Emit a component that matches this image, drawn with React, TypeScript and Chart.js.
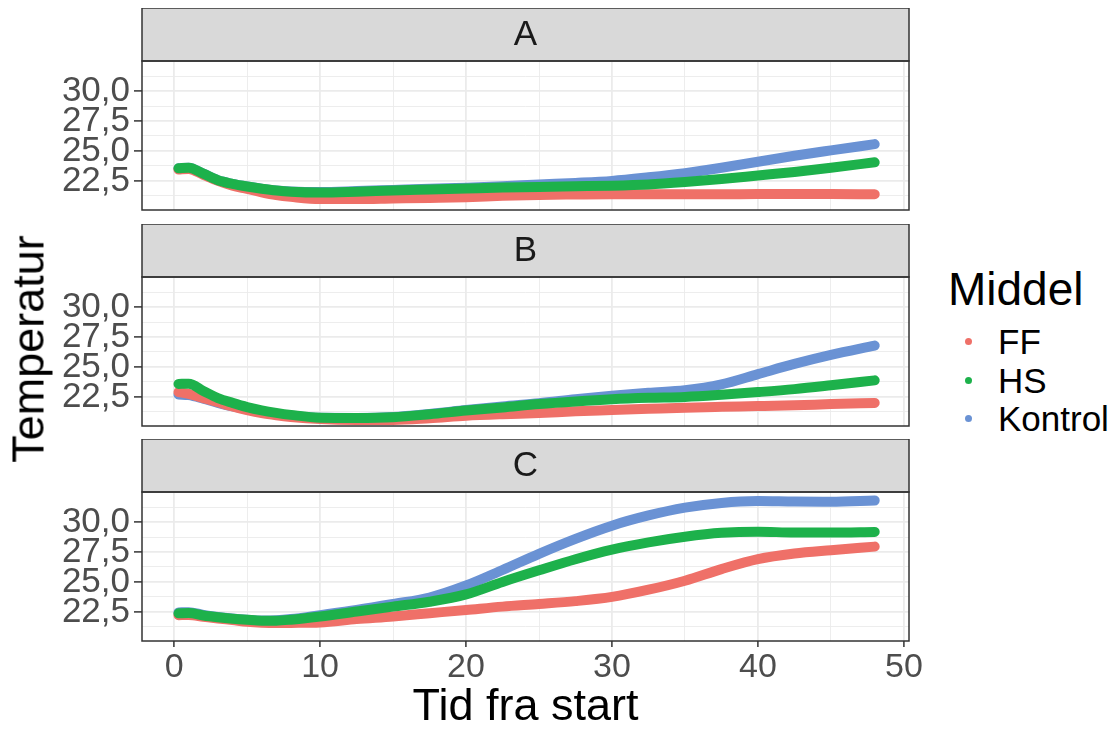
import React, { useEffect, useRef } from 'react';
import { Chart, registerables } from 'chart.js';

Chart.register(...registerables);

// ---------- data ----------
const TIME = [0.3, 1, 2, 3, 4, 5, 6, 7, 8, 10, 12.5, 15, 17.5, 20, 22.5, 25, 27.5, 30, 32.5, 35, 37.5, 40, 42.5, 45, 48];

const A_FF = [23.45, 23.5, 23.0, 22.5, 22.1, 21.83, 21.55, 21.32, 21.17, 20.98, 20.98, 21.03, 21.08, 21.14, 21.25, 21.33, 21.36, 21.38, 21.38, 21.39, 21.39, 21.4, 21.4, 21.4, 21.38];
const A_HS = [23.55, 23.6, 23.1, 22.55, 22.25, 22.03, 21.85, 21.7, 21.6, 21.53, 21.6, 21.7, 21.78, 21.86, 21.94, 22.0, 22.05, 22.1, 22.2, 22.4, 22.65, 22.95, 23.25, 23.6, 24.05];
const A_KONTROL = [23.55, 23.6, 23.1, 22.55, 22.25, 22.03, 21.85, 21.7, 21.62, 21.57, 21.65, 21.75, 21.85, 21.93, 22.05, 22.2, 22.33, 22.5, 22.8, 23.15, 23.6, 24.1, 24.6, 25.05, 25.57];

const B_FF = [22.9, 22.75, 22.4, 22.05, 21.7, 21.4, 21.15, 20.97, 20.83, 20.65, 20.58, 20.58, 20.72, 20.92, 21.05, 21.15, 21.3, 21.4, 21.5, 21.6, 21.67, 21.73, 21.8, 21.9, 22.0];
const B_HS = [23.58, 23.6, 23.0, 22.4, 22.0, 21.65, 21.38, 21.17, 21.0, 20.76, 20.74, 20.8, 21.05, 21.36, 21.62, 21.9, 22.12, 22.3, 22.42, 22.5, 22.68, 22.9, 23.15, 23.47, 23.88];
const B_KONTROL = [22.7, 22.65, 22.35, 22.0, 21.7, 21.5, 21.25, 21.05, 20.92, 20.75, 20.74, 20.82, 21.08, 21.4, 21.7, 21.97, 22.3, 22.6, 22.85, 23.06, 23.55, 24.4, 25.25, 26.0, 26.78];

const C_FF = [22.23, 22.25, 22.1, 21.95, 21.82, 21.68, 21.6, 21.57, 21.58, 21.62, 21.9, 22.12, 22.39, 22.66, 22.94, 23.16, 23.4, 23.75, 24.35, 25.1, 26.07, 26.9, 27.37, 27.65, 27.95];
const C_HS = [22.38, 22.4, 22.2, 22.05, 21.93, 21.84, 21.77, 21.77, 21.85, 22.12, 22.53, 22.94, 23.35, 23.96, 25.0, 25.97, 26.9, 27.7, 28.3, 28.77, 29.1, 29.2, 29.12, 29.12, 29.18];
const C_KONTROL = [22.45, 22.48, 22.25, 22.08, 21.95, 21.85, 21.78, 21.8, 21.9, 22.23, 22.66, 23.16, 23.7, 24.7, 26.0, 27.35, 28.6, 29.7, 30.55, 31.2, 31.6, 31.75, 31.71, 31.7, 31.8];

const SERIES = ['FF', 'HS', 'Kontrol'];
const PANELS = ['A', 'B', 'C'];

const Y_MAJOR = [22.5, 25, 27.5, 30];
const Y_MINOR = [21.25, 23.75, 26.25, 28.75, 31.25];
const X_MAJOR = [0, 10, 20, 30, 40, 50];
const X_MINOR = [5, 15, 25, 35, 45];

const Y_MIN = 20.07;
const Y_MAX = 32.51;
const X_MIN = -2.2;
const X_MAX = 50.35;

const COLORS: Record<string, string> = {
  FF: '#EF7068',
  HS: '#1DB14B',
  Kontrol: '#6A92D4',
};
const DRAW_ORDER: Record<string, number> = { FF: 1, HS: 0, Kontrol: 2 };

const FONT = '"Liberation Sans", Arial, Helvetica, sans-serif';
Chart.defaults.font.family = FONT;

// ---------- layout ----------
const CANVAS_W = 940;
const STRIP_H = 53;
const PLOT_H = 149;
const AXIS_LEFT = 142;
const PAD_RIGHT = 31;

const isIn = (arr: number[], v: number) => arr.some((a) => Math.abs(a - v) < 1e-6);
const fmt = (v: number) => v.toFixed(1).replace('.', ',');

const stripPlugin = {
  id: 'facetStrip',
  afterDraw(chart: any, _args: any, opts: any) {
    const { ctx, chartArea: ca } = chart;
    const h = opts.height;
    ctx.save();
    ctx.fillStyle = '#D9D9D9';
    ctx.fillRect(ca.left, ca.top - h, ca.right - ca.left, h);
    ctx.strokeStyle = '#333333';
    ctx.lineWidth = 1.5;
    ctx.strokeRect(ca.left, ca.top - h, ca.right - ca.left, h);
    ctx.strokeRect(ca.left, ca.top, ca.right - ca.left, ca.bottom - ca.top);
    ctx.fillStyle = '#1A1A1A';
    ctx.font = '35px ' + FONT;
    ctx.textAlign = 'center';
    ctx.textBaseline = 'middle';
    ctx.fillText(opts.text, (ca.left + ca.right) / 2, ca.top - h / 2 + 1);
    ctx.restore();
  },
};

function buildConfig(label: string, values: number[][], bottomAxis: boolean, canvasH: number): any {
  const datasets = SERIES.map((name, si) => ({
    label: name,
    data: TIME.map((t, i) => ({ x: t, y: values[si][i] })),
    borderColor: COLORS[name],
    backgroundColor: COLORS[name],
    borderWidth: 10,
    pointRadius: 0,
    fill: false,
    cubicInterpolationMode: 'monotone',
    borderCapStyle: 'round',
    borderJoinStyle: 'round',
    order: DRAW_ORDER[name],
  }));

  const bottomPad = bottomAxis ? 0 : 3;
  const axisH = canvasH - STRIP_H - PLOT_H - bottomPad;

  return {
    type: 'line',
    data: { datasets },
    plugins: [stripPlugin],
    options: {
      responsive: false,
      maintainAspectRatio: false,
      animation: false,
      events: [],
      layout: { padding: { top: STRIP_H, right: PAD_RIGHT, bottom: bottomPad, left: 0 } },
      plugins: {
        legend: { display: false },
        tooltip: { enabled: false },
        facetStrip: { text: label, height: STRIP_H },
      },
      scales: {
        x: {
          type: 'linear',
          min: X_MIN,
          max: X_MAX,
          afterBuildTicks: (s: any) => {
            s.ticks = [...X_MAJOR, ...X_MINOR].sort((a, b) => a - b).map((v) => ({ value: v }));
          },
          afterFit: (s: any) => {
            s.height = axisH;
            s.paddingLeft = 0;
            s.paddingRight = 0;
          },
          border: { display: false },
          grid: {
            color: '#EBEBEB',
            lineWidth: (c: any) => (c.tick && isIn(X_MAJOR, c.tick.value) ? 1.8 : 0.9),
            drawTicks: bottomAxis,
            tickLength: 6,
            tickWidth: 1.5,
            tickColor: (c: any) => (c.tick && isIn(X_MAJOR, c.tick.value) ? '#333333' : 'rgba(0,0,0,0)'),
          },
          ticks: {
            display: bottomAxis,
            autoSkip: false,
            maxRotation: 0,
            minRotation: 0,
            padding: 0,
            color: '#4D4D4D',
            font: { size: 34, family: FONT },
            callback: (v: number) => (isIn(X_MAJOR, v) ? String(v) : ''),
          },
          title: {
            display: bottomAxis,
            text: 'Tid fra start',
            color: '#000000',
            font: { size: 45, family: FONT, lineHeight: 1 },
            padding: { top: 0, bottom: 0 },
          },
        },
        y: {
          type: 'linear',
          min: Y_MIN,
          max: Y_MAX,
          afterBuildTicks: (s: any) => {
            s.ticks = [...Y_MAJOR, ...Y_MINOR].sort((a, b) => a - b).map((v) => ({ value: v }));
          },
          afterFit: (s: any) => {
            s.width = AXIS_LEFT;
            s.paddingTop = 0;
            s.paddingBottom = 0;
          },
          border: { display: false },
          grid: {
            color: '#EBEBEB',
            lineWidth: (c: any) => (c.tick && isIn(Y_MAJOR, c.tick.value) ? 1.8 : 0.9),
            tickLength: 8,
            tickWidth: 1.5,
            tickColor: (c: any) => (c.tick && isIn(Y_MAJOR, c.tick.value) ? '#333333' : 'rgba(0,0,0,0)'),
          },
          ticks: {
            autoSkip: false,
            padding: 4,
            color: '#4D4D4D',
            font: { size: 35, family: FONT },
            callback: (v: number) => (isIn(Y_MAJOR, v) ? fmt(v) : ''),
          },
        },
      },
    },
  };
}

type PanelProps = { label: string; values: number[][]; top: number; height: number; bottomAxis: boolean };

function Panel({ label, values, top, height, bottomAxis }: PanelProps) {
  const ref = useRef<HTMLCanvasElement | null>(null);
  useEffect(() => {
    if (!ref.current) return;
    const chart = new Chart(ref.current, buildConfig(label, values, bottomAxis, height));
    return () => chart.destroy();
  }, [label, values, bottomAxis, height]);
  return (
    <canvas
      ref={ref}
      width={CANVAS_W}
      height={height}
      style={{ position: 'absolute', left: 0, top, width: CANVAS_W, height, display: 'block' }}
    />
  );
}

const PANEL_VALUES: number[][][] = [
  [A_FF, A_HS, A_KONTROL],
  [B_FF, B_HS, B_KONTROL],
  [C_FF, C_HS, C_KONTROL],
];
const PANEL_TOPS = [8, 224, 439];

export default function App() {
  return (
    <div
      style={{
        position: 'fixed',
        left: 0,
        top: 0,
        width: 1119,
        height: 730,
        overflow: 'hidden',
        background: '#FFFFFF',
        fontFamily: FONT,
      }}
    >
      {PANELS.map((p, i) => (
        <Panel
          key={p}
          label={p}
          values={PANEL_VALUES[i]}
          top={PANEL_TOPS[i]}
          height={i === 2 ? 730 - PANEL_TOPS[i] : STRIP_H + PLOT_H + 3}
          bottomAxis={i === 2}
        />
      ))}

      {/* y-axis title */}
      <div
        style={{
          position: 'absolute',
          left: 28,
          top: 349,
          transform: 'translate(-50%, -50%) rotate(-90deg)',
          fontSize: 45,
          lineHeight: 1,
          whiteSpace: 'nowrap',
          color: '#000000',
        }}
      >
        Temperatur
      </div>

      {/* legend */}
      <div style={{ position: 'absolute', left: 948, top: 266, fontSize: 46, lineHeight: 1, color: '#000000' }}>
        Middel
      </div>
      {SERIES.map((s, i) => {
        const cy = [341, 380, 418][i];
        return (
          <React.Fragment key={s}>
            <div
              style={{
                position: 'absolute',
                left: 968 - 3.5,
                top: cy - 3.5,
                width: 7,
                height: 7,
                borderRadius: '50%',
                background: COLORS[s],
              }}
            />
            <div
              style={{
                position: 'absolute',
                left: 998,
                top: cy - 17.1,
                fontSize: 35,
                lineHeight: 1,
                color: '#000000',
                whiteSpace: 'nowrap',
              }}
            >
              {s}
            </div>
          </React.Fragment>
        );
      })}
    </div>
  );
}
